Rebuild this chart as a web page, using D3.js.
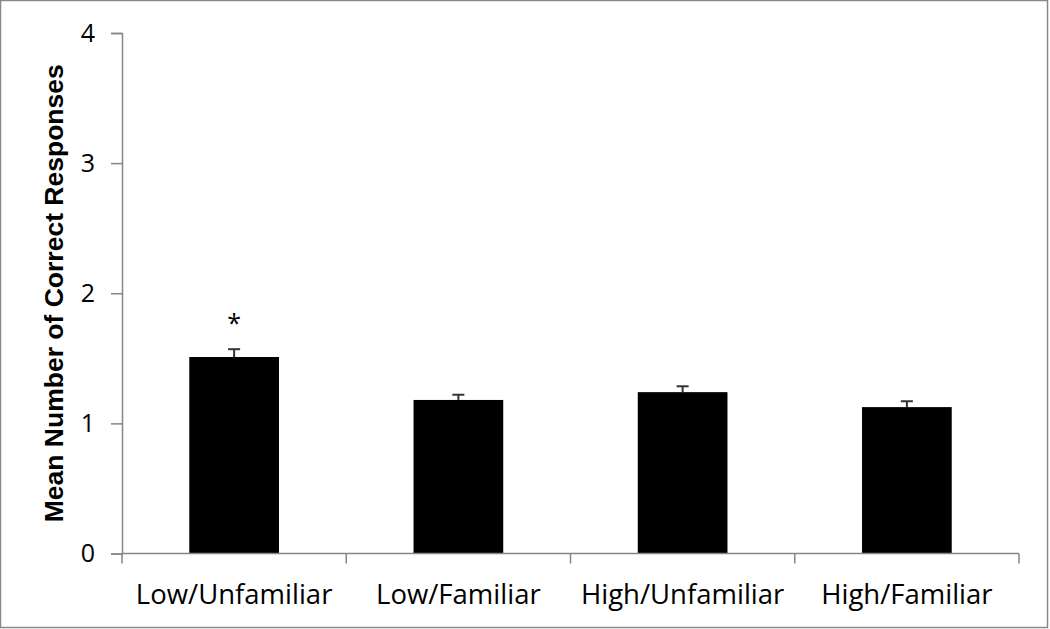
<!DOCTYPE html>
<html>
<head>
<meta charset="utf-8">
<script src="https://cdn.jsdelivr.net/npm/d3@7"></script>
<style>
  body { margin: 0; background: #fff; }
  svg { display: block; }
</style>
</head>
<body>
<script>
// data
const categories = ["Low/Unfamiliar", "Low/Familiar", "High/Unfamiliar", "High/Familiar"];
const means = [1.51, 1.18, 1.24, 1.125];
const errors = [0.06, 0.04, 0.045, 0.045];
const marks = ["*", "", "", ""];
const yTicks = [0, 1, 2, 3, 4];

const width = 1050, height = 629;
const margin = { top: 33, right: 31, bottom: 75, left: 122 };

const svg = d3.select("body").append("svg")
  .attr("width", width)
  .attr("height", height);

// outer frame
svg.append("rect")
  .attr("x", 0.5).attr("y", 0.5)
  .attr("width", width - 3).attr("height", height - 2)
  .attr("fill", "none")
  .attr("stroke", "#888")
  .attr("stroke-width", 1.5);

const x = d3.scaleBand()
  .domain(categories)
  .range([margin.left, width - margin.right])
  .paddingInner(0.6)
  .paddingOuter(0.3);

const y = d3.scaleLinear()
  .domain([0, 4])
  .range([height - margin.bottom - 0.5, margin.top]);

const font = "'Open Sans', 'Liberation Sans', sans-serif";

// bars
svg.append("g")
  .selectAll("rect")
  .data(means)
  .join("rect")
  .attr("x", (d, i) => x(categories[i]))
  .attr("y", d => y(d))
  .attr("width", x.bandwidth())
  .attr("height", d => y(0) - y(d))
  .attr("fill", "#000");

// error bars (upper only)
const eb = svg.append("g").attr("stroke", "#333").attr("stroke-width", 2);
means.forEach((m, i) => {
  const cx = x(categories[i]) + x.bandwidth() / 2;
  eb.append("line")
    .attr("x1", cx).attr("x2", cx)
    .attr("y1", y(m)).attr("y2", y(m + errors[i]));
  eb.append("line")
    .attr("x1", cx - 6).attr("x2", cx + 6)
    .attr("y1", y(m + errors[i])).attr("y2", y(m + errors[i]));
});

// significance marks
svg.append("g")
  .selectAll("text")
  .data(marks)
  .join("text")
  .attr("x", (d, i) => x(categories[i]) + x.bandwidth() / 2)
  .attr("y", (d, i) => y(means[i] + errors[i]) - 17)
  .attr("text-anchor", "middle")
  .attr("font-family", font)
  .attr("font-size", 25)
  .text(d => d);

// y axis
const yAxis = g => g
  .attr("transform", `translate(${margin.left},0)`)
  .call(d3.axisLeft(y).tickValues(yTicks).tickFormat(d3.format("d")).tickSize(11).tickPadding(16))
  .call(g => g.select(".domain").attr("stroke", "#868686").attr("stroke-width", 1.5))
  .call(g => g.selectAll(".tick line").attr("stroke", "#868686").attr("stroke-width", 1.5))
  .call(g => g.selectAll(".tick text")
    .attr("font-family", font).attr("font-size", 25).attr("fill", "#000"));

// x axis, ticks between categories
const xAxis = g => g
  .attr("transform", `translate(0,${y(0)})`)
  .call(g => g.append("line")
    .attr("x1", margin.left).attr("x2", width - margin.right)
    .attr("stroke", "#868686").attr("stroke-width", 1.5))
  .call(g => g.selectAll(".sep")
    .data(d3.range(categories.length + 1))
    .join("line")
    .attr("class", "sep")
    .attr("x1", i => margin.left + i * x.step())
    .attr("x2", i => margin.left + i * x.step())
    .attr("y1", 0).attr("y2", 10)
    .attr("stroke", "#868686").attr("stroke-width", 1.5))
  .call(g => g.selectAll(".lab")
    .data(categories)
    .join("text")
    .attr("class", "lab")
    .attr("x", d => x(d) + x.bandwidth() / 2)
    .attr("y", 50)
    .attr("text-anchor", "middle")
    .attr("font-family", font)
    .attr("font-size", 27.5)
    .attr("fill", "#000")
    .text(d => d));

svg.append("g").call(yAxis);
svg.append("g").call(xAxis);

// y title
svg.append("text")
  .attr("transform", `translate(63,${(margin.top + y(0)) / 2}) rotate(-90)`)
  .attr("text-anchor", "middle")
  .attr("font-family", "'Liberation Sans', Arial, sans-serif")
  .attr("font-weight", "bold")
  .attr("font-size", 26.5)
  .text("Mean Number of Correct Responses");
</script>
</body>
</html>
